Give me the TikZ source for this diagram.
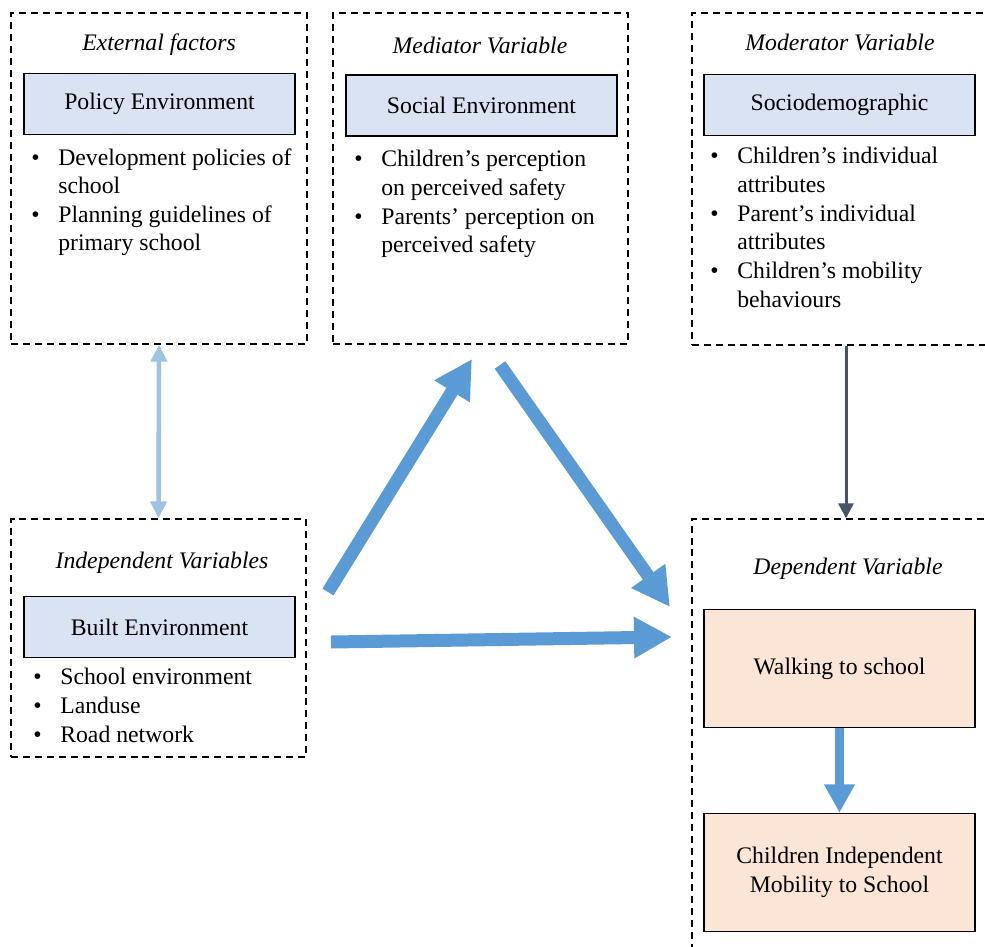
\documentclass[tikz,border=0pt]{standalone}
\usepackage{fontspec}
\setmainfont{Liberation Serif}
\usepackage{xcolor}
\usepackage{tikz}
\usetikzlibrary{arrows.meta}

\definecolor{boxblue}{HTML}{DAE3F3}
\definecolor{boxpeach}{HTML}{FBE5D6}
\definecolor{arrowblue}{HTML}{5B9BD5}
\definecolor{lightarrow}{HTML}{9DC3E6}
\definecolor{darkarrow}{HTML}{44546A}

\newcommand{\itm}[1]{\makebox[0.54cm][l]{\textbullet}#1}
\newcommand{\cnt}[1]{\hspace*{0.54cm}#1}

\begin{document}
\begin{tikzpicture}[x=0.02cm, y=-0.02cm,
        every node/.style={font=\fontsize{13.5}{16.3}\selectfont, inner sep=0pt},
        frame/.style={draw, dash pattern=on 4pt off 2.8pt, line width=0.8pt},
        title/.style={font=\fontsize{13.5}{16.3}\selectfont\itshape},
        varbox/.style={draw, fill=boxblue, line width=0.8pt, minimum width=5.42cm, minimum height=1.22cm},
        depbox/.style={draw, fill=boxpeach, line width=0.8pt, minimum width=5.42cm, minimum height=2.36cm, align=center},
        items/.style={anchor=north west, align=left},
        bigarrow/.style={arrowblue, line width=0.26cm, -{Triangle[length=0.76cm, width=0.78cm]}}]
                \useasboundingbox (0,0) rectangle (985,947);

                % dashed frames
                \node[frame, minimum width=5.92cm, minimum height=6.62cm] (ext) at (159, 178.5) {};
                \node[frame, minimum width=5.9cm, minimum height=6.62cm] (med) at (480.5, 178.5) {};
                \node[frame, minimum width=6.16cm, minimum height=6.64cm] (mod) at (846, 179) {};
                \node[frame, minimum width=5.9cm, minimum height=4.76cm] (indep) at (158.5, 638) {};
                \node[frame, minimum width=6.16cm, minimum height=8.82cm] (dep) at (846, 739.5) {};

                % titles
                \node[title] (exttitle) at (159, 45) {External factors};
                \node[title] (medtitle) at (480, 45) {Mediator Variable};
                \node[title] (modtitle) at (840, 42) {Moderator Variable};
                \node[title] (indeptitle) at (162, 563) {Independent Variables};
                \node[title] (deptitle) at (848, 569) {Dependent Variable};

                % variable boxes
                \node[varbox] (policy) at (159.5, 104) {Policy Environment};
                \node[varbox] (social) at (481.5, 105.5) {Social Environment};
                \node[varbox] (socio) at (839.5, 105) {Sociodemographic};
                \node[varbox] (built) at (159.5, 627) {Built Environment};
                \node[depbox] (walk) at (839.5, 668.5) {Walking to school};
                \node[depbox] (cim) at (839.5, 872.5) {Children Independent\\Mobility to School};

                % bullet lists
                \node[items] (extlist) at (31, 148) {\itm{Development policies of}\\\cnt{school}\\\itm{Planning guidelines of}\\\cnt{primary school}};
                \node[items] (medlist) at (354, 150) {\itm{Children’s perception}\\\cnt{on perceived safety}\\\itm{Parents’ perception on}\\\cnt{perceived safety}};
                \node[items] (modlist) at (710, 147) {\itm{Children’s individual}\\\cnt{attributes}\\\itm{Parent’s individual}\\\cnt{attributes}\\\itm{Children’s mobility}\\\cnt{behaviours}};
                \node[items] (indeplist) at (33, 668) {\itm{School environment}\\\itm{Landuse}\\\itm{Road network}};

                % arrow ends
                \coordinate (builtup) at (328, 592);
                \coordinate (socialin) at (472, 359);
                \coordinate (socialout) at (500, 365);
                \coordinate (depin) at (670, 607);
                \coordinate (builtright) at (331, 642);
                \coordinate (depleft) at (672, 637);

                \draw[bigarrow] (builtup) -- (socialin);
                \draw[bigarrow] (socialout) -- (depin);
                \draw[bigarrow] (builtright) -- (depleft);

                \draw[lightarrow, line width=0.09cm, {Triangle[length=0.34cm, width=0.32cm]}-{Triangle[length=0.34cm, width=0.32cm]}] (ext.south) -- (indep.north);
                \draw[darkarrow, line width=0.06cm, -{Triangle[length=0.3cm, width=0.3cm]}] (mod.south) -- (dep.north);
                \draw[arrowblue, line width=0.19cm, -{Triangle[length=0.57cm, width=0.58cm]}] (walk.south) -- (cim.north);
            \end{tikzpicture}
\end{document}
